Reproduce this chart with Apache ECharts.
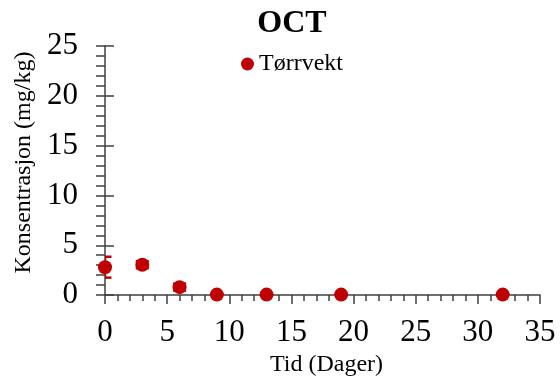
<!DOCTYPE html>
<html>
<head>
<meta charset="utf-8">
<script src="https://cdn.jsdelivr.net/npm/echarts@6/dist/echarts.min.js"></script>
<style>html,body{margin:0;padding:0;background:#fff}#c{width:560px;height:382px}</style>
</head>
<body>
<div id="c"></div>
<script>
const days = [0, 3, 6, 9, 13, 19, 32];
const values = [2.8, 3.05, 0.8, 0.05, 0.05, 0.05, 0.05];
const errors = [1.05, 0.35, 0.35, 0, 0, 0, 0];
const xTicks = [0, 5, 10, 15, 20, 25, 30, 35];
const yTicks = [0, 5, 10, 15, 20, 25];

const RED = '#C00000';
const AX = '#404040';
const FONT = '"Liberation Serif", "Times New Roman", serif';

const chart = echarts.init(document.getElementById('c'), null, {renderer: 'canvas'});
const errData = days.map((d, i) => [d, values[i] - errors[i], values[i] + errors[i], errors[i]]);

chart.setOption({
  animation: false,
  title: {
    text: 'OCT', left: 287, textAlign: 'center', top: 3,
    textStyle: {fontFamily: FONT, fontSize: 32, fontWeight: 'bold', color: '#000'}
  },
  legend: {
    left: 236, top: 47, itemWidth: 13, itemHeight: 13, itemGap: 4,
    icon: 'circle',
    textStyle: {fontFamily: FONT, fontSize: 24, color: '#000'},
    data: ['Tørrvekt']
  },
  grid: {left: 105, right: 20, top: 46, bottom: 84, containLabel: false},
  xAxis: {
    type: 'value', min: xTicks[0], max: xTicks[xTicks.length - 1], interval: 5,
    name: 'Tid (Dager)', nameLocation: 'middle', nameGap: 57,
    nameTextStyle: {fontFamily: FONT, fontSize: 24, color: '#000', padding: [0, 0, 0, 8]},
    axisLine: {show: true, lineStyle: {color: AX, width: 1.5}},
    axisTick: {show: true, inside: false, length: 9, lineStyle: {color: AX, width: 1.5}},
    minorTick: {show: true, splitNumber: 5, length: 6, lineStyle: {color: AX, width: 1.5}},
    splitLine: {show: false},
    axisLabel: {fontFamily: FONT, fontSize: 31, color: '#000', margin: 22}
  },
  yAxis: [{
    type: 'value', min: yTicks[0], max: yTicks[yTicks.length - 1], interval: 5,
    name: 'Konsentrasjon (mg/kg)', nameLocation: 'middle', nameGap: 59,
    nameTextStyle: {fontFamily: FONT, fontSize: 24, color: '#000', padding: [0, 0, 0, 16]},
    axisLine: {show: true, lineStyle: {color: AX, width: 1.5}},
    axisTick: {show: true, inside: false, length: 9, lineStyle: {color: AX, width: 1.5}},
    minorTick: {show: true, splitNumber: 5, length: 9, lineStyle: {color: AX, width: 1.5}},
    splitLine: {show: false},
    axisLabel: {fontFamily: FONT, fontSize: 31, color: '#000', margin: 27}
  }, {
    type: 'value', min: yTicks[0], max: yTicks[yTicks.length - 1], interval: 5,
    position: 'left',
    axisLine: {show: false},
    axisTick: {show: true, inside: true, length: 9, lineStyle: {color: AX, width: 1.5}},
    axisLabel: {show: false},
    splitLine: {show: false}
  }],
  series: [{
    type: 'custom',
    name: 'err',
    clip: true,
    z: 1,
    silent: true,
    renderItem: function (params, api) {
      const x = api.value(0);
      const lo = api.coord([x, api.value(1)]);
      const hi = api.coord([x, api.value(2)]);
      const hw = 6.5;
      const st = {stroke: RED, lineWidth: 2.5};
      return {
        type: 'group',
        children: [
          {type: 'line', shape: {x1: lo[0], y1: lo[1], x2: hi[0], y2: hi[1]}, style: st},
          {type: 'line', shape: {x1: lo[0] - hw, y1: lo[1], x2: lo[0] + hw, y2: lo[1]}, style: st},
          {type: 'line', shape: {x1: hi[0] - hw, y1: hi[1], x2: hi[0] + hw, y2: hi[1]}, style: st}
        ]
      };
    },
    encode: {x: 0, y: [1, 2]},
    data: errData
  }, {
    type: 'scatter',
    name: 'Tørrvekt',
    symbol: 'circle',
    symbolSize: 14,
    z: 3,
    clip: false,
    itemStyle: {color: RED, opacity: 1},
    data: days.map((d, i) => [d, values[i]])
  }]
});
</script>
</body>
</html>
